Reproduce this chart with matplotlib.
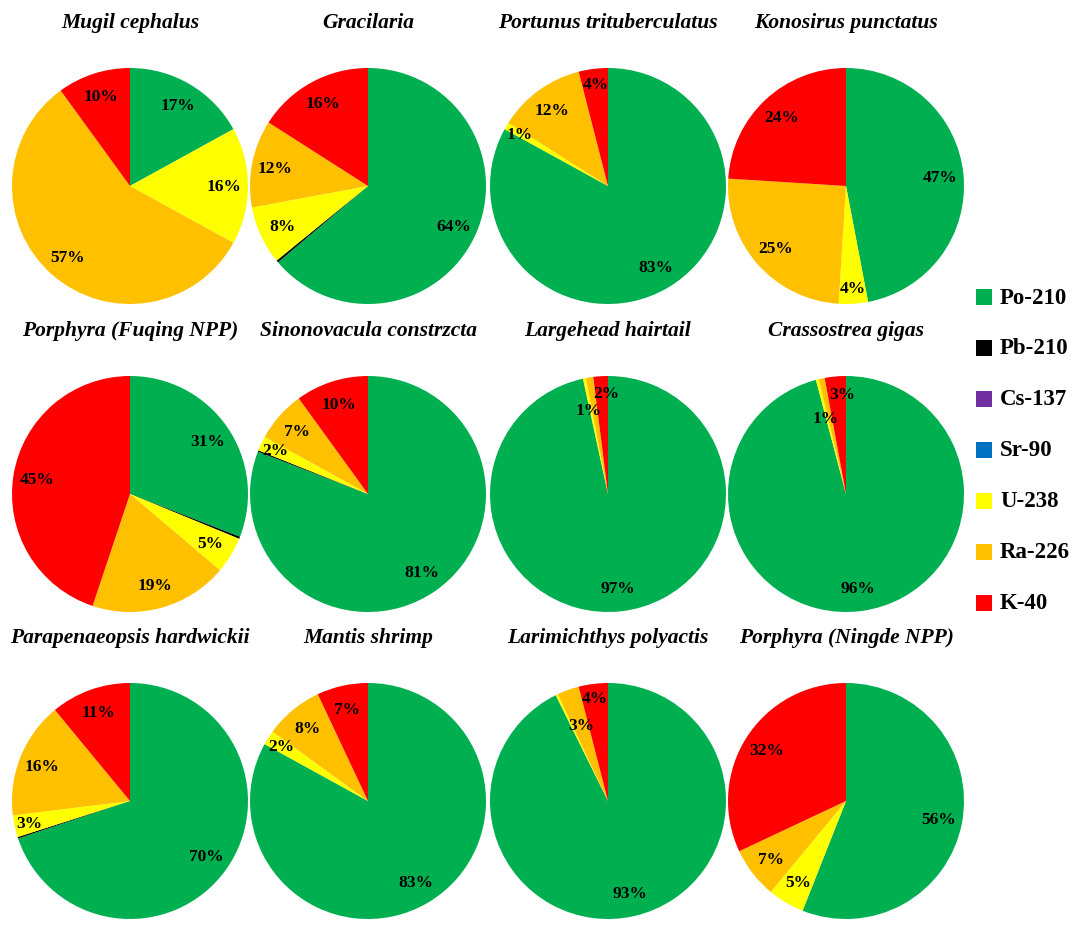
import matplotlib
matplotlib.use("Agg")
import matplotlib.pyplot as plt
from matplotlib.patches import Rectangle
import numpy as np

W, H = 1084, 929

samples = ["Mugil cephalus", "Gracilaria", "Portunus trituberculatus", "Konosirus punctatus",
           "Porphyra (Fuqing NPP)", "Sinonovacula constrzcta", "Largehead hairtail", "Crassostrea gigas",
           "Parapenaeopsis hardwickii", "Mantis shrimp", "Larimichthys polyactis", "Porphyra (Ningde NPP)"]
isotopes = ["Po-210", "Pb-210", "Cs-137", "Sr-90", "U-238", "Ra-226", "K-40"]
po210 = [17, 64, 83, 47, 31, 81, 96.6, 95.9, 70, 83, 92.7, 56]
pb210 = [0, 0.3, 0, 0, 0.3, 0.2, 0, 0, 0.2, 0, 0, 0]
cs137 = [0, 0, 0, 0, 0, 0, 0, 0, 0, 0, 0, 0]
sr90 = [0, 0, 0, 0, 0, 0, 0, 0, 0, 0, 0, 0]
u238 = [16, 8, 1, 4, 5, 2, 0.4, 0.4, 3, 2, 0.3, 5]
ra226 = [57, 12, 12, 25, 19, 7, 1.0, 0.8, 16, 8, 3, 7]
k40 = [10, 16, 4, 24, 45, 10, 2, 2.9, 11, 7, 4, 32]

colors = ["#00B050", "#000000", "#7030A0", "#0070C0", "#FFFF00", "#FFC000", "#FF0000"]

# label placement overrides (angle in degrees, radial distance) for crowded slices
label_pos = {
    (2, 6): (97, 0.87),
    (6, 6): (91, 0.86), (6, 5): (103, 0.73),
    (7, 6): (92, 0.85), (7, 5): (105, 0.67),
    (10, 6): (97.5, 0.88), (10, 5): (109.5, 0.68),
}

fig = plt.figure(figsize=(W / 100, H / 100), dpi=100)
fig.patch.set_facecolor("white")

col_x = [130, 368, 608, 846]
row_y = [187, 495, 802]
title_y = [23, 331, 638]
R = 118

serif = "Liberation Serif"

series = [po210, pb210, cs137, sr90, u238, ra226, k40]
for i, name in enumerate(samples):
    r, c = divmod(i, 4)
    cx, cy = col_x[c], row_y[r]
    ax = fig.add_axes([(cx - R) / W, 1 - (cy + R) / H, 2 * R / W, 2 * R / H])
    vals = np.array([s[i] for s in series], dtype=float)
    wedges, _ = ax.pie(vals, colors=colors, startangle=90, counterclock=False,
                       radius=1, wedgeprops=dict(linewidth=0))
    total = vals.sum()
    for k, (w, v) in enumerate(zip(wedges, vals)):
        if v / total * 100 < 0.5:
            continue
        if (i, k) in label_pos:
            ang, d = label_pos[(i, k)]
            mid = np.deg2rad(ang)
        else:
            mid = np.deg2rad((w.theta1 + w.theta2) / 2)
            d = 0.8 if v >= 5 else 0.87
        ax.text(d * np.cos(mid), d * np.sin(mid), f"{round(v / total * 100):d}%",
                ha="center", va="center", fontsize=12.5, fontweight="bold", family=serif)
    ax.set_xlim(-1, 1)
    ax.set_ylim(-1, 1)
    ax.set_aspect("equal")
    ax.axis("off")
    fig.text(cx / W, 1 - title_y[r] / H, name, ha="center", va="center",
             fontsize=15.5, fontweight="bold", fontstyle="italic", family=serif)

# legend
leg_y = [298, 349, 400, 451, 502, 553, 604]
for lab, col, y in zip(isotopes, colors, leg_y):
    fig.patches.append(Rectangle(((976) / W, 1 - (y + 8) / H), 16 / W, 16 / H,
                                 transform=fig.transFigure, facecolor=col, edgecolor="none"))
    fig.text(1000 / W, 1 - y / H, lab, ha="left", va="center", fontsize=16.5,
             fontweight="bold", family=serif)

fig.savefig("out.png", dpi=100, facecolor="white")
